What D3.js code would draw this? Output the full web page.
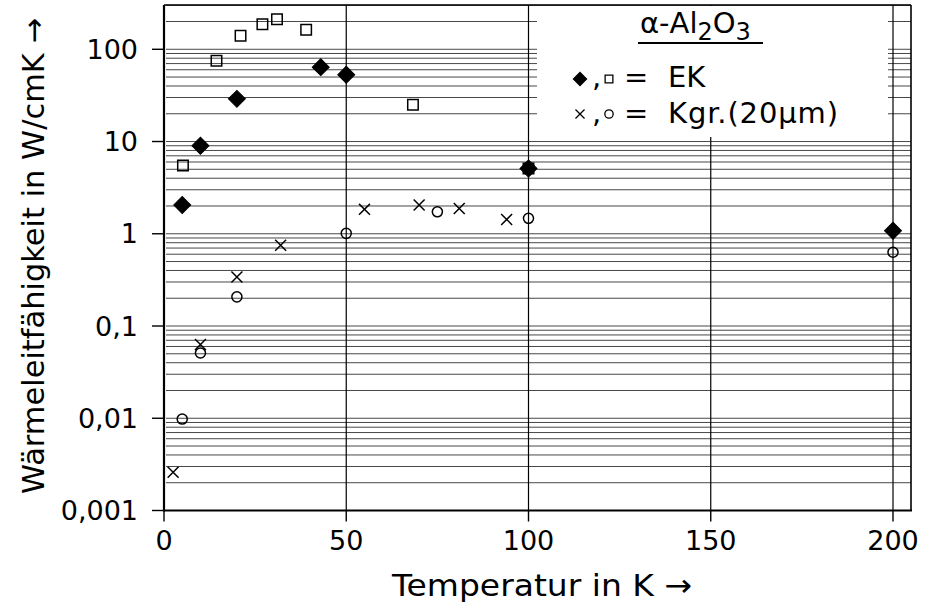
<html>
<script src="https://d3js.org/d3.v7.min.js"></script>
<body style="margin:0; background:white;">
<div id="chart_area"></div>
<script>
// Waermeleitfaehigkeit alpha-Al2O3, T in K, values in W/cmK
let ekDiamondT = [5, 10, 20, 43, 50, 100, 200];
let ekDiamondV = [2.05, 9.0, 29, 64, 53, 5.1, 1.08];
let ekSquareT = [5.2, 14.4, 21, 27, 31, 39, 68.3, 100];
let ekSquareV = [5.5, 75, 140, 187, 211, 163, 25, 5.1];
let kgrCrossT = [2.5, 10, 20, 32, 55, 70, 81, 94];
let kgrCrossV = [0.0026, 0.063, 0.34, 0.75, 1.84, 2.05, 1.88, 1.43];
let kgrCircleT = [5, 10, 20, 50, 75, 100, 200];
let kgrCircleV = [0.0098, 0.051, 0.207, 1.01, 1.73, 1.47, 0.63];

let xTicks = [0, 50, 100, 150, 200];
let yTicks = [0.001, 0.01, 0.1, 1, 10, 100];
let yTickLabels = ["0,001", "0,01", "0,1", "1", "10", "100"];

let width = 925;
let height = 610;
let plotL = 164, plotR = 911, plotT = 5, plotB = 510.5;
let font = "'DejaVu Sans', sans-serif";

let svg = d3.select("#chart_area").append("svg")
    .attr("width", width)
    .attr("height", height);

let x = d3.scaleLinear().domain([0, 200]).range([plotL, 893]);
let y = d3.scaleLog().domain([0.001, 302]).range([plotB, plotT]);

// minor log grid 1..9 per decade
let gridVals = [];
for (let n = -3; n <= 2; n++) {
    for (let k = 1; k <= 9; k++) {
        let v = k * Math.pow(10, n);
        if (v > 0.001 && v <= 302) gridVals.push(v);
    }
}

svg.append("g").selectAll("line")
    .data(gridVals)
    .join("line")
    .attr("x1", plotL + 2)
    .attr("x2", plotR)
    .attr("y1", d => y(d))
    .attr("y2", d => y(d))
    .attr("stroke", "#333")
    .attr("stroke-width", 0.9);

// vertical grid lines
svg.append("g").selectAll("line")
    .data(xTicks.slice(1))
    .join("line")
    .attr("x1", d => x(d))
    .attr("x2", d => x(d))
    .attr("y1", plotT)
    .attr("y2", plotB)
    .attr("stroke", "black")
    .attr("stroke-width", 1.2);

// white legend area
svg.append("rect")
    .attr("x", 537)
    .attr("y", plotT + 1)
    .attr("width", 351)
    .attr("height", 131)
    .attr("fill", "white");

// frame
svg.append("line").attr("x1", plotL).attr("x2", plotL).attr("y1", plotT).attr("y2", plotB + 1)
    .attr("stroke", "black").attr("stroke-width", 2.2);
svg.append("line").attr("x1", plotL).attr("x2", plotR + 1).attr("y1", plotB).attr("y2", plotB)
    .attr("stroke", "black").attr("stroke-width", 2.2);
svg.append("line").attr("x1", plotL).attr("x2", plotR).attr("y1", plotT).attr("y2", plotT)
    .attr("stroke", "black").attr("stroke-width", 1.6);
svg.append("line").attr("x1", plotR).attr("x2", plotR).attr("y1", plotT).attr("y2", plotB)
    .attr("stroke", "black").attr("stroke-width", 1.6);

// y ticks
svg.append("g").selectAll("line")
    .data(yTicks)
    .join("line")
    .attr("x1", plotL - 12)
    .attr("x2", plotL)
    .attr("y1", d => y(d))
    .attr("y2", d => y(d))
    .attr("stroke", "black")
    .attr("stroke-width", 1.4);

svg.append("g").selectAll("text")
    .data(yTicks)
    .join("text")
    .attr("x", 138)
    .attr("y", d => y(d))
    .attr("dy", "0.36em")
    .attr("text-anchor", "end")
    .style("font-family", font)
    .style("font-size", "27px")
    .text((d, i) => yTickLabels[i]);

// x ticks
svg.append("g").selectAll("line")
    .data(xTicks)
    .join("line")
    .attr("x1", d => x(d))
    .attr("x2", d => x(d))
    .attr("y1", plotB)
    .attr("y2", plotB + 11)
    .attr("stroke", "black")
    .attr("stroke-width", 1.4);

svg.append("g").selectAll("text")
    .data(xTicks)
    .join("text")
    .attr("x", d => x(d))
    .attr("y", 550)
    .attr("text-anchor", "middle")
    .style("font-family", font)
    .style("font-size", "27px")
    .text(d => d);

// axis titles
svg.append("text")
    .attr("transform", "translate(44,256) rotate(-90)")
    .attr("text-anchor", "middle")
    .attr("textLength", 476)
    .attr("lengthAdjust", "spacingAndGlyphs")
    .style("font-family", font)
    .style("font-size", "30px")
    .text("Wärmeleitfähigkeit in W/cmK →");

svg.append("text")
    .attr("x", 542)
    .attr("y", 596)
    .attr("text-anchor", "middle")
    .attr("textLength", 300)
    .attr("lengthAdjust", "spacingAndGlyphs")
    .style("font-family", font)
    .style("font-size", "31px")
    .text("Temperatur in K →");

// markers
let diamond = d3.symbol().type(d3.symbolSquare).size(144);
let square = d3.symbol().type(d3.symbolSquare).size(110);
let circle = d3.symbol().type(d3.symbolCircle).size(80);
let cross = d3.symbol().type(d3.symbolTimes).size(80);

function drawPoints(ts, vs, sym, filled, rot) {
    svg.append("g").selectAll("path")
        .data(ts.map((t, i) => [t, vs[i]]))
        .join("path")
        .attr("d", sym)
        .attr("transform", d => "translate(" + x(d[0]) + "," + y(d[1]) + ") rotate(" + rot + ")")
        .attr("fill", filled ? "black" : "none")
        .attr("stroke", "black")
        .attr("stroke-width", filled ? 1 : 1.5);
}

drawPoints(ekSquareT, ekSquareV, square, false, 0);
drawPoints(kgrCircleT, kgrCircleV, circle, false, 0);
drawPoints(kgrCrossT, kgrCrossV, cross, false, 0);
drawPoints(ekDiamondT, ekDiamondV, diamond, true, 45);

// legend
let lg = svg.append("g").style("font-family", font).style("font-size", "29px");
let title = lg.append("text").attr("x", 640).attr("y", 33);
title.append("tspan").text("α-Al");
title.append("tspan").attr("dy", 7).style("font-size", "24px").text("2");
title.append("tspan").attr("dy", -7).text("O");
title.append("tspan").attr("dy", 7).style("font-size", "24px").text("3");
lg.append("line").attr("x1", 638).attr("x2", 763).attr("y1", 43).attr("y2", 43)
    .attr("stroke", "black").attr("stroke-width", 2);

let legendRows = [
    {y: 79, base: 87, s1: d3.symbol().type(d3.symbolSquare).size(85), r1: 45, f1: true,
     s2: d3.symbol().type(d3.symbolSquare).size(60), label: "EK"},
    {y: 114, base: 123, s1: d3.symbol().type(d3.symbolTimes).size(55), r1: 0, f1: false,
     s2: d3.symbol().type(d3.symbolCircle).size(55), label: "Kgr.(20μm)"}
];
legendRows.forEach(r => {
    lg.append("path").attr("d", r.s1)
        .attr("transform", "translate(580," + r.y + ") rotate(" + r.r1 + ")")
        .attr("fill", r.f1 ? "black" : "none").attr("stroke", "black").attr("stroke-width", 1.3);
    lg.append("text").attr("x", 592).attr("y", r.base).text(",");
    lg.append("path").attr("d", r.s2)
        .attr("transform", "translate(609," + r.y + ")")
        .attr("fill", "none").attr("stroke", "black").attr("stroke-width", 1.3);
    lg.append("text").attr("x", 624).attr("y", r.base).text("=");
    let t = lg.append("text").attr("x", 668).attr("y", r.base).text(r.label);
    if (r.label != "EK") t.attr("textLength", 170).attr("lengthAdjust", "spacing");
});
</script>
</body>
</html>
